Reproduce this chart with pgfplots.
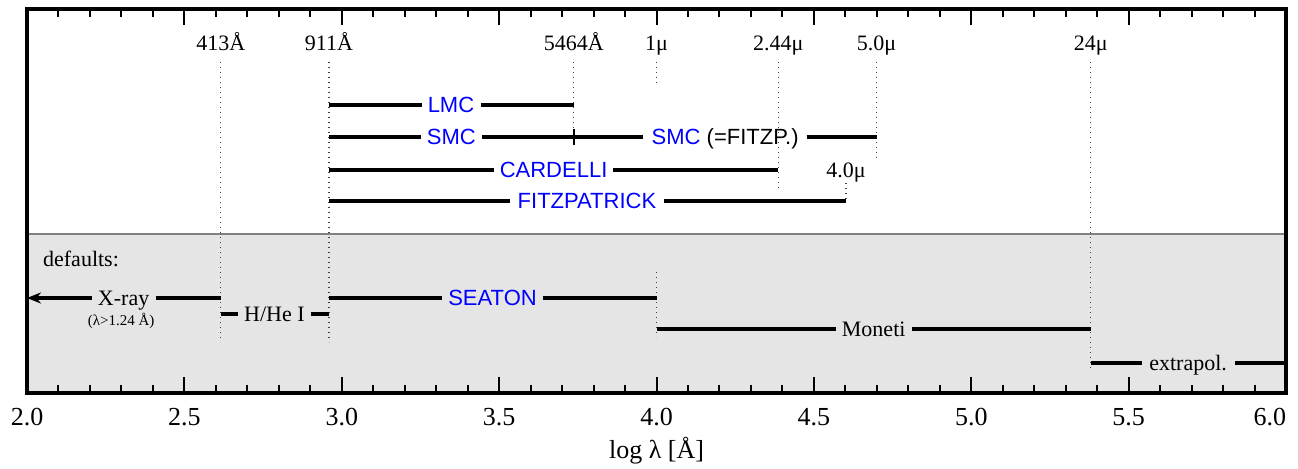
\documentclass[border=0pt]{standalone}
\usepackage{pgfplots}
\pgfplotsset{compat=1.18}
\usetikzlibrary{arrows.meta}
\usepackage{fontspec}
\setmainfont{Liberation Serif}
\newfontfamily\sansf{Liberation Sans}
\begin{document}
\begin{tikzpicture}
\tikzset{
  lab/.style={anchor=base, inner sep=0pt, font=\fontsize{11}{13}\selectfont},
  blab/.style={anchor=base, inner sep=0pt, font=\sansf\fontsize{11}{13}\selectfont, text=blue},
  seg/.style={black, line width=1.6pt},
  dot/.style={black!75, line width=0.6pt, dash pattern=on 0.6pt off 1.9pt},
}
\begin{axis}[
  scale only axis, width=629.5pt, height=192pt,
  xmin=2, xmax=6, ymin=0, ymax=384,
  axis on top, clip=false,
  ytick=\empty,
  xtick={2,2.5,3,3.5,4,4.5,5,5.5,6},
  xticklabels={2.0,2.5,3.0,3.5,4.0,4.5,5.0,5.5,{\llap{6.0}}},
  minor x tick num=4,
  xtick pos=both, tick align=inside,
  major tick length=8pt, minor tick length=4pt,
  every tick/.style={black, line width=1pt},
  axis line style={line width=1.7pt},
  tick label style={font=\fontsize{13}{15}\selectfont},
  xticklabel style={yshift=-4pt},
  xlabel={log λ [Å]},
  xlabel style={font=\fontsize{13}{15}\selectfont, inner sep=0pt, yshift=-2pt},
]
% fixed picture frame
\path (axis cs:1.9142,-75) rectangle (axis cs:6.0381,393);
% grey defaults band
\addplot[fill=black!10, draw=none] coordinates {(2,0) (6,0) (6,159) (2,159) (2,0)};
\addplot[black!50, line width=0.7pt] coordinates {(2,159) (6,159)};
% dotted markers
\addplot[dot] coordinates {(2.616,331) (2.616,51)};
\addplot[dot] coordinates {(2.9595,331) (2.9595,51)};
\addplot[dot] coordinates {(3.7375,331) (3.7375,256)};
\addplot[dot] coordinates {(4.0,331) (4.0,310)};
\addplot[dot] coordinates {(4.387,331) (4.387,205)};
\addplot[dot] coordinates {(4.699,331) (4.699,233)};
\addplot[dot] coordinates {(5.380,331) (5.380,23)};
\addplot[dot] coordinates {(4.602,210) (4.602,192)};
\addplot[dot] coordinates {(4.0,121) (4.0,56)};
% wavelength labels
\node[lab] at (axis cs:2.616,343) {413Å};
\node[lab] at (axis cs:2.9595,343) {911Å};
\node[lab] at (axis cs:3.7375,343) {5464Å};
\node[lab] at (axis cs:4.0,343) {1μ};
\node[lab] at (axis cs:4.387,343) {2.44μ};
\node[lab] at (axis cs:4.699,343) {5.0μ};
\node[lab] at (axis cs:5.380,343) {24μ};
\node[lab] at (axis cs:4.602,216) {4.0μ};
% LMC
\addplot[seg] coordinates {(2.9595,288) (3.254,288)};
\addplot[seg] coordinates {(3.441,288) (3.7375,288)};
\node[blab] at (axis cs:3.347,280.3) {LMC};
% SMC
\addplot[seg] coordinates {(2.9595,256) (3.252,256)};
\addplot[seg] coordinates {(3.445,256) (3.958,256)};
\addplot[seg] coordinates {(4.477,256) (4.699,256)};
\addplot[black, line width=1.3pt] coordinates {(3.7375,248) (3.7375,264)};
\node[blab] at (axis cs:3.348,248.3) {SMC};
\node[blab] at (axis cs:4.218,248.3) {SMC \textcolor{black}{(=FITZP.)}};
% CARDELLI
\addplot[seg] coordinates {(2.9595,223) (3.484,223)};
\addplot[seg] coordinates {(3.863,223) (4.387,223)};
\node[blab] at (axis cs:3.673,215.3) {CARDELLI};
% FITZPATRICK
\addplot[seg] coordinates {(2.9595,192) (3.535,192)};
\addplot[seg] coordinates {(4.025,192) (4.602,192)};
\node[blab] at (axis cs:3.779,184.3) {FITZPATRICK};
% defaults
\node[lab, anchor=base west] at (axis cs:2.050,126.3) {defaults:};
% X-ray
\addplot[seg, -{Stealth[length=7pt,width=5.5pt]}] coordinates {(2.205,95) (2.0,95)};
\addplot[seg] coordinates {(2.409,95) (2.616,95)};
\node[lab] at (axis cs:2.307,87.3) {X-ray};
\node[anchor=base, inner sep=0pt, font=\fontsize{7.5}{9}\selectfont] at (axis cs:2.299,68) {(λ>1.24 Å)};
% H/He I
\addplot[seg] coordinates {(2.616,79) (2.671,79)};
\addplot[seg] coordinates {(2.901,79) (2.9595,79)};
\node[lab] at (axis cs:2.786,71.3) {H/He I};
% SEATON
\addplot[seg] coordinates {(2.9595,95) (3.317,95)};
\addplot[seg] coordinates {(3.640,95) (4.0,95)};
\node[blab] at (axis cs:3.479,87.3) {SEATON};
% Moneti
\addplot[seg] coordinates {(4.0,64) (4.569,64)};
\addplot[seg] coordinates {(4.811,64) (5.380,64)};
\node[lab] at (axis cs:4.69,56.3) {Moneti};
% extrapol.
\addplot[seg] coordinates {(5.380,30) (5.541,30)};
\addplot[seg] coordinates {(5.838,30) (6.0,30)};
\node[lab] at (axis cs:5.689,22.3) {extrapol.};
\end{axis}
\end{tikzpicture}
\end{document}
